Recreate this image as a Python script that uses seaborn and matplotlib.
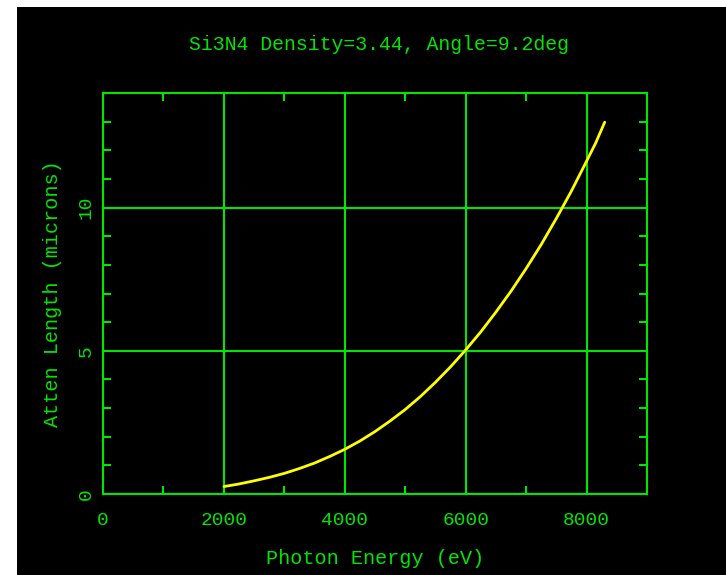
import matplotlib
matplotlib.use("Agg")
import matplotlib.pyplot as plt
import seaborn as sns
import pandas as pd
from matplotlib.patches import Rectangle

# ==============================
# DATA
# ==============================

energy_ev = [2000, 2250, 2500, 2750, 3000, 3250, 3500, 3750, 4000, 4250, 4500, 4750,
             5000, 5250, 5500, 5750, 6000, 6250, 6500, 6750, 7000, 7250, 7500, 7750,
             8000, 8150, 8300]
atten_um = [0.26, 0.35, 0.46, 0.58, 0.72, 0.89, 1.08, 1.31, 1.56, 1.85, 2.18, 2.55,
            2.95, 3.40, 3.90, 4.44, 5.03, 5.66, 6.35, 7.08, 7.87, 8.71, 9.62, 10.58,
            11.62, 12.25, 12.98]

x_ticks = [0, 2000, 4000, 6000, 8000]
y_ticks = [0, 5, 10]

title = "Si3N4 Density=3.44, Angle=9.2deg"
x_label = "Photon Energy (eV)"
y_label = "Atten Length (microns)"

df = pd.DataFrame({"energy": energy_ev, "atten": atten_um})

# ==============================
# STYLE
# ==============================

sns.set_style("dark")
GREEN = "#00e600"
YELLOW = "#ffff00"
plt.rcParams["font.family"] = ["Liberation Mono", "DejaVu Sans Mono"]

fig = plt.figure(figsize=(7.26, 5.75), dpi=100, facecolor="white")
# black plotting page with small white margin on the left and top
fig.patches.append(Rectangle((17 / 726, 0), 1 - 17 / 726, 1 - 7 / 575,
                             transform=fig.transFigure, facecolor="black",
                             edgecolor="none", zorder=-10))

ax = fig.add_axes([103 / 726, 1 - 494 / 575, 544 / 726, 401 / 575])
ax.set_zorder(1)
ax.set_facecolor("black")

sns.lineplot(data=df, x="energy", y="atten", ax=ax, color=YELLOW, linewidth=2, zorder=3)

ax.set_xlim(0, 9000)
ax.set_ylim(0, 14)
ax.set_xticks(x_ticks)
ax.set_yticks(y_ticks)
ax.set_xticks(range(1000, 9000, 2000), minor=True)
ax.set_yticks([v for v in range(1, 14) if v % 5 != 0], minor=True)

ax.grid(True, which="major", color=GREEN, linewidth=1.5)
ax.grid(False, which="minor")
for s in ax.spines.values():
    s.set_color(GREEN)
    s.set_linewidth(1.5)
    s.set_visible(True)

ax.tick_params(which="both", direction="in", color=GREEN, top=True, right=True,
               bottom=True, left=True, labelcolor=GREEN, labelsize=14)
ax.tick_params(which="major", length=0, width=1.5)
ax.tick_params(which="minor", length=6, width=1.5)
ax.tick_params(axis="x", which="major", pad=13)
ax.tick_params(axis="y", which="major", pad=6)
for lbl in ax.get_yticklabels():
    lbl.set_rotation(90)
    lbl.set_va("center")

ax.set_xlabel(x_label, color=GREEN, fontsize=14.5, labelpad=14)
ax.set_ylabel(y_label, color=GREEN, fontsize=14.5, labelpad=11)
fig.text((103 + 647) / 2 / 726 + 0.006, 1 - 45 / 575, title, color=GREEN,
         fontsize=14.3, ha="center", va="center")

fig.savefig("out.png", dpi=100, facecolor=fig.get_facecolor())
